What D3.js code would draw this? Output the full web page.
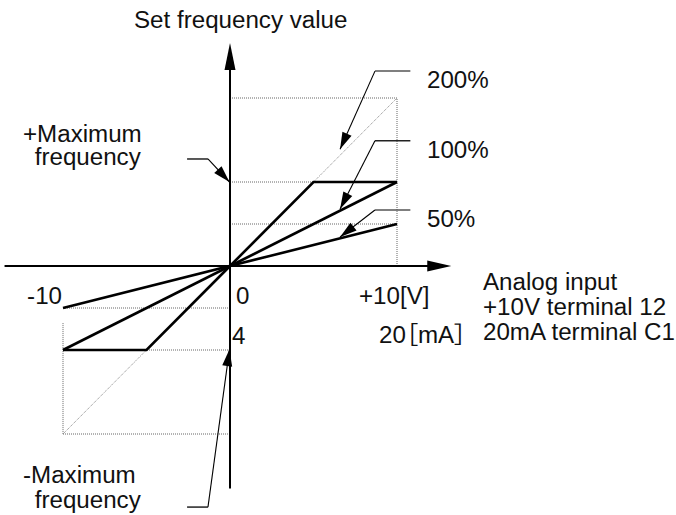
<!DOCTYPE html>
<html><head><meta charset="utf-8">
<script src="https://cdn.jsdelivr.net/npm/d3@7"></script>
<style>body{margin:0;background:#fff}</style>
</head><body><svg id="c" width="676" height="515"></svg>
<script>
// ---- data ----
const xDomain = [-10, 10];            // analog input [V]
const yDomain = [-200, 200];          // set frequency [% of max]
const gainLabels = ["200%", "100%", "50%"];
const curve200 = [[-10, -100], [-5, -100], [0, 0], [5, 100], [10, 100]];   // gain 200%, clipped at max
const curve100 = [[-10, -100], [10, 100]];
const curve50  = [[-10, -50], [10, 50]];
const curve200Beyond = [[[5, 100], [10, 200]], [[-5, -100], [-10, -200]]];
const guideLevelsPos = [200, 100, 50];
const guideLevelsNeg = [-50, -100, -200];
const guideVerticals = [[10, 0, 200], [-10, -68, -200]];
const xTickLabels = ["-10", "0", "+10[V]"];
const mATickLabels = ["4", "20［mA］"];
const yTitle = "Set frequency value";
const xTitleLines = ["Analog input", "+10V terminal 12", "20mA terminal C1"];
const maxLabelsPos = ["+Maximum", " frequency"];
const maxLabelsNeg = ["-Maximum", " frequency"];
// leader lines (data units): [start, knee, tip]
const gainLeaders = [
  [[10.8, 232], [8.68, 232], [6.59, 139]],
  [[10.8, 149], [8.68, 149], [6.59, 68]],
  [[10.8, 66.7], [8.68, 66.7], [6.59, 34.5]]
];
const maxLeaders = [
  [[-2.57, 127.4], [-1.32, 127.4], [-0.03, 100]],
  [[-2.57, -287], [-1.32, -287], [-0.03, -99]]
];

// ---- drawing ----
const svg = d3.select("#c");
const x = d3.scaleLinear().domain(xDomain).range([63, 397]);
const y = d3.scaleLinear().domain(yDomain).range([434, 98]);
const line = d3.line().x(d => x(d[0])).y(d => y(d[1]));

// guides
const gG = svg.append("g").attr("fill", "none").attr("stroke", "#666")
  .attr("stroke-width", 1).attr("stroke-dasharray", "1,1");
guideLevelsPos.forEach(v => gG.append("path").attr("d", line([[0, v], [10, v]])));
guideLevelsNeg.forEach(v => gG.append("path").attr("d", line([[-10, v], [0, v]])));
guideVerticals.forEach(g => gG.append("path").attr("d", line([[g[0], g[1]], [g[0], g[2]]])));
curve200Beyond.forEach(s => gG.append("path").attr("d", line(s)).attr("stroke", "#888"));

// axes
const axX = [-13.5, 13.25], axY = [-265, 265.5];
function arrowHead(g, tip, from, L, W, fill) {
  const dx = tip[0] - from[0], dy = tip[1] - from[1];
  const len = Math.hypot(dx, dy), ux = dx / len, uy = dy / len;
  const bx = tip[0] - ux * L, by = tip[1] - uy * L;
  g.append("path").attr("d",
    `M${tip[0]},${tip[1]}L${bx - uy * W},${by + ux * W}L${bx + uy * W},${by - ux * W}Z`)
    .attr("fill", fill || "#000").attr("stroke", "none");
}
const axG = svg.append("g");
axG.append("line").attr("x1", x(axX[0])).attr("x2", x(axX[1]) - 20).attr("y1", y(0)).attr("y2", y(0))
  .attr("stroke", "#000").attr("stroke-width", 2);
arrowHead(axG, [x(axX[1]), y(0)], [x(0), y(0)], 24, 5.5);
axG.append("line").attr("x1", x(0)).attr("x2", x(0)).attr("y1", y(axY[0])).attr("y2", y(axY[1]) + 22)
  .attr("stroke", "#000").attr("stroke-width", 2);
arrowHead(axG, [x(0), y(axY[1])], [x(0), y(0)], 27, 5.5);

// curves
const cG = svg.append("g").attr("fill", "none").attr("stroke", "#000").attr("stroke-width", 2.6)
  .attr("stroke-linejoin", "miter");
[curve200, curve100, curve50].forEach(c => cG.append("path").attr("d", line(c)));

// leaders
const lG = svg.append("g").attr("fill", "none");
function leader(pts, L, W, knColor) {
  const p = pts.map(d => [x(d[0]), y(d[1])]);
  lG.append("line").attr("x1", p[0][0]).attr("y1", p[0][1]).attr("x2", p[1][0]).attr("y2", p[1][1])
    .attr("stroke", knColor).attr("stroke-width", 1.5);
  lG.append("line").attr("x1", p[1][0]).attr("y1", p[1][1]).attr("x2", p[2][0]).attr("y2", p[2][1])
    .attr("stroke", "#000").attr("stroke-width", 1.1);
  arrowHead(lG, p[2], p[1], L, W);
}
gainLeaders.forEach((l, i) => leader(l, 17, 5, i === 1 ? "#222" : "#555"));
maxLeaders.forEach(l => leader(l, 17, 5, "#222"));

// texts
const FS = 23, SX = 1.05;
const FONT = "'Liberation Sans', Arial, 'Noto Sans CJK JP', sans-serif";
function txt(s, px, py, anchor) {
  return svg.append("text").attr("transform", `translate(${px},${py}) scale(${SX},1)`)
    .attr("text-anchor", anchor || "start")
    .attr("font-family", FONT)
    .style("font-feature-settings", "'palt' 1")
    .attr("font-size", FS).attr("fill", "#111").style("white-space", "pre").text(s);
}
txt(yTitle, 134, 28);
txt(maxLabelsPos[0], 23, 142); txt(maxLabelsPos[1], 28, 165);
txt(maxLabelsNeg[0], 23, 483); txt(maxLabelsNeg[1], 28, 508);
gainLabels.forEach((s, i) => txt(s, 427, [88, 158, 227][i]));
txt(xTickLabels[0], 62, 304, "end");
txt(xTickLabels[1], 236, 304);
txt(xTickLabels[2], 359, 304);
txt(mATickLabels[0], 232, 344);
txt(mATickLabels[1], 379, 343);
xTitleLines.forEach((s, i) => txt(s, 483, 290 + i * 25));
</script></body></html>
